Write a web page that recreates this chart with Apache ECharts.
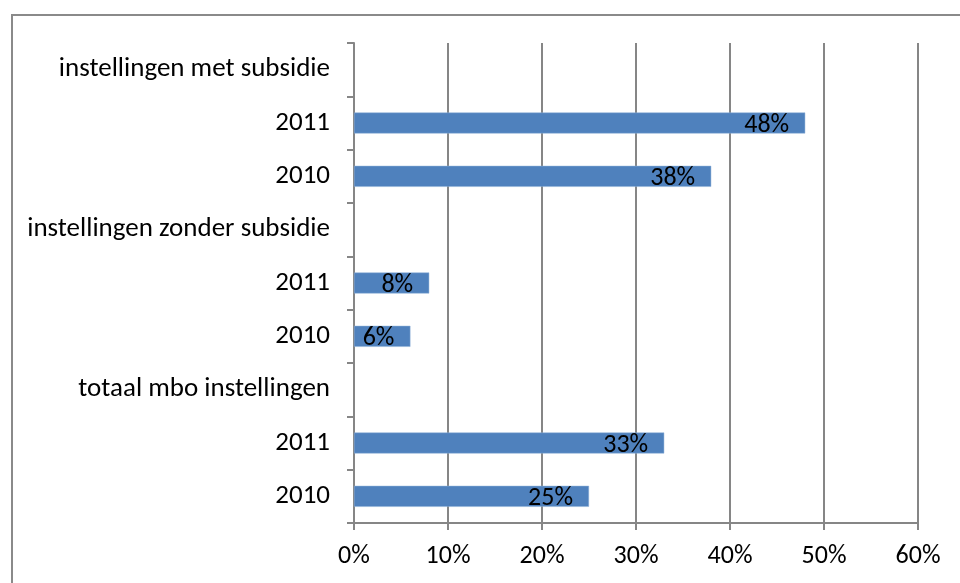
<!DOCTYPE html>
<html><head><meta charset="utf-8">
<script src="https://cdn.jsdelivr.net/npm/echarts@6/dist/echarts.min.js"></script>
<style>html,body{margin:0;padding:0;background:#fff}#c{width:960px;height:583px}</style>
</head><body><div id="c"></div>
<script>
const categories = ['instellingen met subsidie','2011','2010','instellingen zonder subsidie','2011','2010','totaal mbo instellingen','2011','2010'];
const values = [null,48,38,null,8,6,null,33,25];
const xTicks = [0,10,20,30,40,50,60];

const FONT = 'Carlito, Lato, "Open Sans", sans-serif';
const chart = echarts.init(document.getElementById('c'), null, {renderer:'canvas'});
chart.setOption({
  animation:false,
  backgroundColor:'#fff',
  graphic:[{type:'rect',shape:{x:12,y:15,width:980,height:620},style:{fill:'none',stroke:'#8a8a8a',lineWidth:2},silent:true}],
  grid:{left:354,right:42,top:43,bottom:60,containLabel:false},
  xAxis:{type:'value',min:xTicks[0],max:xTicks[xTicks.length-1],interval:10,
    axisLine:{show:true,lineStyle:{color:'#868686',width:2}},
    axisTick:{show:true,length:7,lineStyle:{color:'#868686',width:2}},
    splitLine:{show:true,lineStyle:{color:'#868686',width:2}},
    axisLabel:{formatter:'{value}%',color:'#000',fontSize:26,fontFamily:FONT,margin:20}},
  yAxis:{type:'category',data:categories,inverse:true,boundaryGap:true,
    axisLine:{show:true,lineStyle:{color:'#868686',width:2}},
    axisTick:{show:true,length:7,alignWithLabel:false,lineStyle:{color:'#868686',width:2}},
    splitLine:{show:false},
    axisLabel:{color:'#000',fontSize:27,fontFamily:FONT,margin:24}},
  series:[{type:'bar',data:values,barWidth:21,
    itemStyle:{color:'#4F81BD',borderColor:'#8fb0d9',borderWidth:0.5},
    label:{show:true,position:'insideRight',distance:16,formatter:'{c}%',color:'#000',fontSize:26,fontFamily:FONT,offset:[0,2]}}]
});
</script></body></html>
